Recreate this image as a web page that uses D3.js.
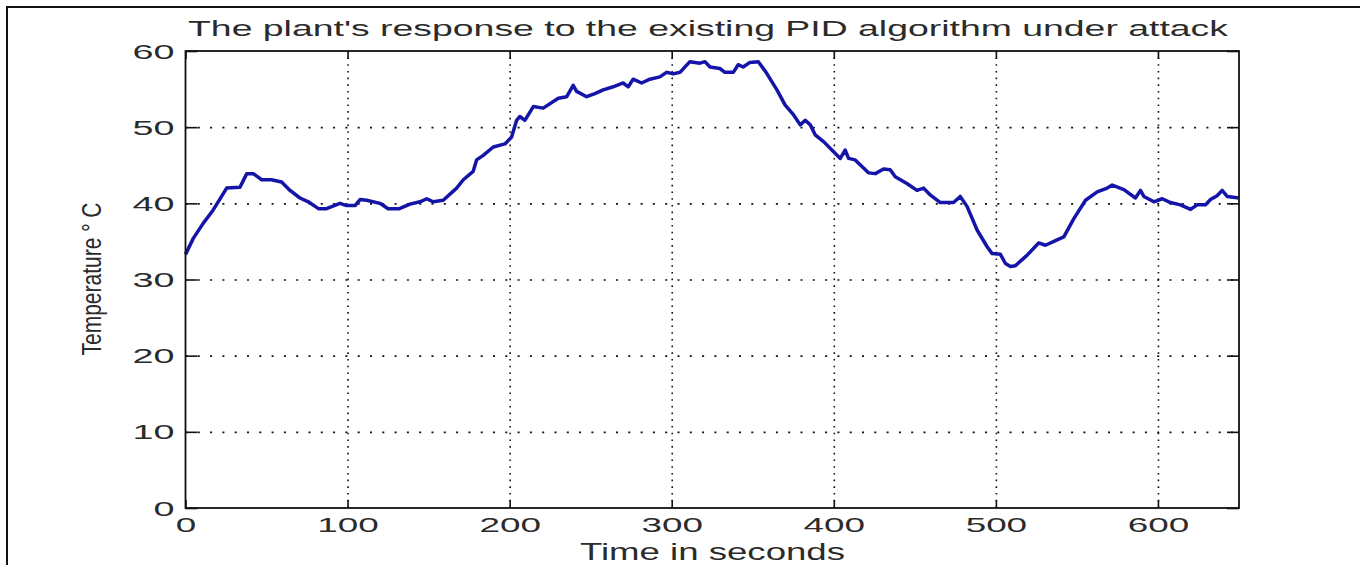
<!DOCTYPE html>
<html>
<head>
<meta charset="utf-8">
<script src="https://cdn.jsdelivr.net/npm/d3@7"></script>
<style>
html,body{margin:0;padding:0;background:#fff;}
svg{display:block;}
text{font-family:"Liberation Sans",Arial,Helvetica,sans-serif;fill:#2b2b2b;}
</style>
</head>
<body>
<svg id="chart" width="1360" height="565"></svg>
<script>
const timeSec = [0, 4.8, 11, 17, 25.4, 33.6, 37.8, 41.8, 47, 53,
  59.3, 64.5, 70.6, 75.8, 82, 87, 95.3, 99.4, 104.6, 107.7,
  111.8, 120, 125, 132, 138.5, 144.7, 148.8, 152.9, 159, 167.3,
  171.4, 177.5, 179.6, 183.7, 189.9, 197.1, 201.2, 204.3, 206.3, 209.4,
  214.6, 220.7, 230, 235.2, 239.2, 241.3, 247.5, 252.6, 257.7, 263.9,
  270, 273.2, 276.2, 281.4, 286.5, 292.7, 296.8, 300.9, 305.1, 311.2,
  317.4, 320.5, 323.6, 329.7, 332.8, 338, 341, 344.1, 348.2, 353.4,
  358.5, 364.9, 370, 375.2, 379.3, 382.4, 385.5, 388.5, 393.7, 398.8,
  404, 407, 409.1, 413.2, 421.4, 425.6, 430.7, 434.8, 437.9, 445.1,
  451.3, 455.4, 459.5, 465.7, 473.9, 478, 482.2, 488.4, 494.6, 497.7,
  502.8, 505.9, 509, 512, 519.3, 526.4, 530.6, 537.8, 541.9, 548.1,
  555.3, 562.5, 568.7, 571.8, 579, 586.1, 589.2, 591.3, 597.5, 602.6,
  607.7, 613.9, 620.1, 624.2, 629.3, 632.4, 636.5, 639.6, 642.7, 650];
const temperature = [33.3, 35.4, 37.4, 39.1, 42.0, 42.1, 43.9, 43.9, 43.1, 43.1,
  42.8, 41.7, 40.7, 40.2, 39.3, 39.3, 40.0, 39.7, 39.7, 40.5,
  40.4, 40.0, 39.3, 39.3, 39.9, 40.2, 40.6, 40.2, 40.4, 42.0,
  43.1, 44.2, 45.7, 46.3, 47.4, 47.8, 48.7, 50.9, 51.4, 50.9,
  52.7, 52.5, 53.8, 54.0, 55.5, 54.7, 54.0, 54.4, 54.9, 55.3,
  55.8, 55.3, 56.3, 55.8, 56.3, 56.6, 57.2, 57.0, 57.2, 58.6,
  58.4, 58.6, 57.9, 57.7, 57.2, 57.2, 58.2, 57.9, 58.5, 58.6,
  57.1, 54.9, 52.9, 51.6, 50.3, 50.9, 50.3, 49.0, 48.1, 47.0,
  45.9, 47.0, 45.9, 45.7, 44.0, 43.9, 44.5, 44.4, 43.5, 42.6,
  41.7, 42.0, 41.1, 40.1, 40.1, 40.9, 39.6, 36.5, 34.3, 33.4,
  33.3, 32.1, 31.7, 31.8, 33.2, 34.8, 34.5, 35.2, 35.6, 38.0,
  40.4, 41.5, 42.0, 42.4, 41.8, 40.7, 41.7, 40.9, 40.2, 40.6,
  40.1, 39.8, 39.2, 39.8, 39.8, 40.5, 41.0, 41.7, 40.9, 40.7];
const xTicks = [0, 100, 200, 300, 400, 500, 600];
const yTicks = [0, 10, 20, 30, 40, 50, 60];
const titleText = "The plant's response to the existing PID algorithm under attack";
const xLabel = "Time in seconds";
const yLabel = "Temperature \u00B0 C";

const svg = d3.select("#chart");
const L = 185.5, R = 1239, T = 51, B = 508;
const x = d3.scaleLinear().domain([0, 650]).range([L, R]);
const y = d3.scaleLinear().domain([0, 60]).range([B, T]);

// outer figure border
svg.append("path").attr("d", "M7,600 V7 H1400")
  .attr("fill", "none").attr("stroke", "#111").attr("stroke-width", 2);

// grid
const gx = svg.append("g").attr("transform", `translate(0,${B})`)
  .call(d3.axisBottom(x).tickValues(xTicks.filter(d => d > 0)).tickSize(-(B - T)).tickFormat(""));
gx.select(".domain").remove();
gx.selectAll("line").attr("stroke", "#111").attr("stroke-width", 1.6).attr("stroke-dasharray", "1.6,5.1");
const gy = svg.append("g").attr("transform", `translate(${L},0)`)
  .call(d3.axisLeft(y).tickValues(yTicks.filter(d => d > 0 && d < 60)).tickSize(-(R - L)).tickFormat(""));
gy.select(".domain").remove();
gy.selectAll("line").attr("stroke", "#111").attr("stroke-width", 1.6).attr("stroke-dasharray", "2,10.3");

// data line
const pts = timeSec.map((t, i) => [t, temperature[i]]);
svg.append("path").datum(pts)
  .attr("d", d3.line().x(d => x(d[0])).y(d => y(d[1])))
  .attr("fill", "none").attr("stroke", "#1414a8").attr("stroke-width", 3.5)
  .attr("stroke-linejoin", "round");

// box
svg.append("rect").attr("x", L).attr("y", T).attr("width", R - L).attr("height", B - T)
  .attr("fill", "none").attr("stroke", "#111").attr("stroke-width", 1.8);

// ticks
function styleTicks(g){ g.select(".domain").remove(); g.selectAll("line").attr("stroke", "#111").attr("stroke-width", 1.6); }
const axB = svg.append("g").attr("transform", `translate(0,${B})`)
  .call(d3.axisBottom(x).tickValues(xTicks).tickSize(-8).tickPadding(0));
styleTicks(axB);
axB.selectAll("text").attr("y", 23.5).attr("dy", null)
  .style("font-size", "21px").attr("text-anchor", "middle")
  .attr("textLength", d => String(d).length * 20.5).attr("lengthAdjust", "spacingAndGlyphs");
const axT = svg.append("g").attr("transform", `translate(0,${T})`)
  .call(d3.axisTop(x).tickValues(xTicks).tickSize(-8).tickFormat(""));
styleTicks(axT);
const axL = svg.append("g").attr("transform", `translate(${L},0)`)
  .call(d3.axisLeft(y).tickValues(yTicks).tickSize(-12).tickPadding(0));
styleTicks(axL);
axL.selectAll("text").attr("x", -11).attr("dy", null).attr("y", 7)
  .style("font-size", "20px").attr("text-anchor", "end")
  .attr("textLength", d => String(d).length * 21).attr("lengthAdjust", "spacingAndGlyphs");
const axR = svg.append("g").attr("transform", `translate(${R},0)`)
  .call(d3.axisRight(y).tickValues(yTicks).tickSize(-12).tickFormat(""));
styleTicks(axR);
svg.selectAll("g text").style("fill", "#2b2b2b");

// title
svg.append("text").attr("x", 188).attr("y", 36)
  .style("font-size", "22px").attr("textLength", 1040).attr("lengthAdjust", "spacingAndGlyphs")
  .text(titleText);
// x label
svg.append("text").attr("x", 580).attr("y", 560)
  .style("font-size", "24px").attr("textLength", 265).attr("lengthAdjust", "spacingAndGlyphs")
  .text(xLabel);
// y label
svg.append("text").attr("transform", "translate(101,279) rotate(-90) scale(1,1.4)")
  .attr("text-anchor", "middle")
  .style("font-size", "20px").attr("textLength", 153).attr("lengthAdjust", "spacingAndGlyphs")
  .text(yLabel);
</script>
</body>
</html>
